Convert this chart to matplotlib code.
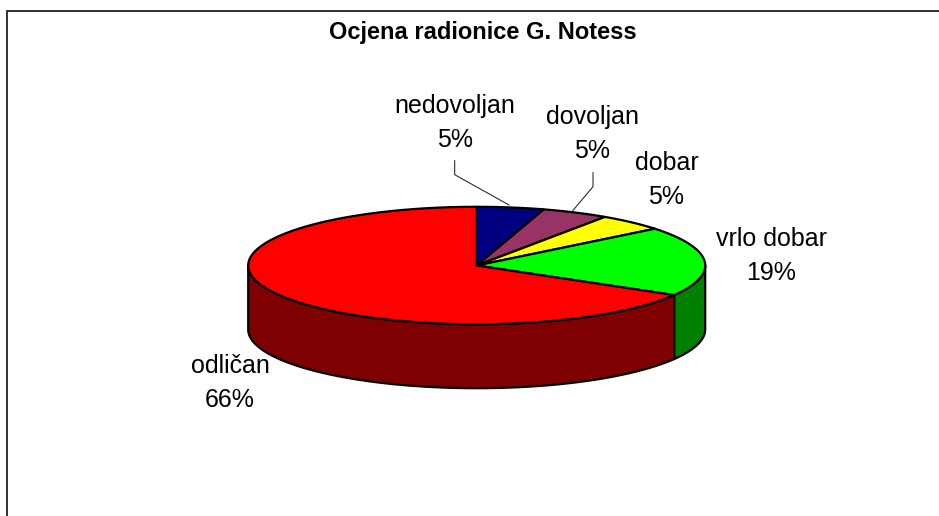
import numpy as np
import matplotlib
matplotlib.use("Agg")
import matplotlib.pyplot as plt

categories = ["nedovoljan", "dovoljan", "dobar", "vrlo dobar", "odličan"]
values = [4.7, 4.7, 4.7, 19, 66]
top_colors = ["#000080", "#993366", "#FFFF00", "#00FF00", "#FF0000"]
side_colors = ["#00004d", "#5c1f3d", "#808000", "#007F00", "#7F0000"]
title = "Ocjena radionice G. Notess"
label_pos = [(455, 123), (592.5, 134), (666.5, 180), (771, 256), (230, 383)]
leaders = [[(454.7, 160.7), (454.7, 174.7), (509, 205)],
           [(593, 172.7), (593, 186.7), (572.7, 210.7)]]

CX, CY, RX, RY, DEPTH = 476.7, 265.5, 228.5, 58.7, 64

plt.rcParams["font.family"] = ["Liberation Sans", "DejaVu Sans"]
fig = plt.figure(figsize=(9.39, 5.16), dpi=100)
ax = fig.add_axes([0, 0, 1, 1])
ax.set_xlim(0, 939)
ax.set_ylim(516, 0)
ax.axis("off")

# chart-area border (only top and left fall inside the crop)
ax.plot([6.5, 6.5, 939], [516, 10.5, 10.5], color="#333333", lw=1.4, solid_joinstyle="miter")

def pt(t, dz=0.0):
    return CX + RX * np.sin(t), CY - RY * np.cos(t) + dz

total = sum(values)
edges = np.concatenate([[0], np.cumsum(values)]) / total * 2 * np.pi

# side walls (visible on the front half only)
for v0, v1, c in zip(edges[:-1], edges[1:], side_colors):
    a, b = max(v0, np.pi / 2), min(v1, 3 * np.pi / 2)
    if b <= a:
        continue
    t = np.linspace(a, b, 200)
    xt, yt = pt(t)
    xb, yb = pt(t[::-1], DEPTH)
    ax.fill(np.r_[xt, xb], np.r_[yt, yb], facecolor=c, edgecolor="black", lw=1.6, joinstyle="round")

# top faces
for v0, v1, c in zip(edges[:-1], edges[1:], top_colors):
    t = np.linspace(v0, v1, 300)
    xt, yt = pt(t)
    ax.fill(np.r_[CX, xt], np.r_[CY, yt], facecolor=c, edgecolor="black", lw=1.6, joinstyle="round")

for seg in leaders:
    xs, ys = zip(*seg)
    ax.plot(xs, ys, color="#222222", lw=0.75)

for name, v, (x, y) in zip(categories, values, label_pos):
    ax.text(x, y, f"{name}\n{v:.0f}%", ha="center", va="center", fontsize=18,
            linespacing=1.5, color="black")

ax.text(483, 32.5, title, ha="center", va="center", fontsize=17, fontweight="bold", color="black")

fig.savefig("out.png", dpi=100)
